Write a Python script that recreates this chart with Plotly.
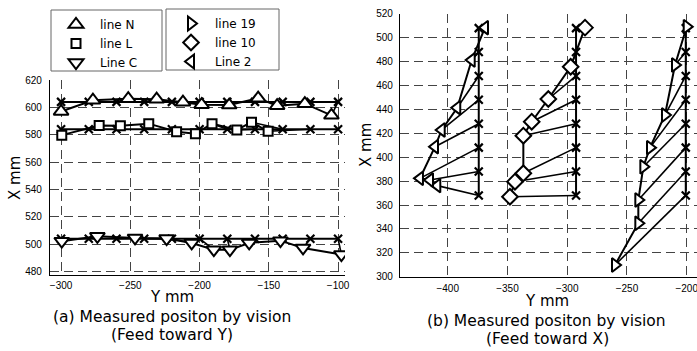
import plotly.graph_objects as go

# ---------------- (a) Feed toward Y ----------------
cmd_y_a = [-300, -280, -260, -240, -220, -200, -180, -160, -140, -120, -100]
cmd_x_N = [604, 604, 604, 604, 604, 604, 604, 604, 604, 604, 604]
cmd_x_L = [584, 584, 584, 584, 584, 584, 584, 584, 584, 584, 584]
cmd_x_C = [504, 504, 504, 504, 504, 504, 504, 504, 504, 504, 504]

meas_y_N = [-300, -277, -251.5, -231, -212, -198.5, -178.6, -157.7, -144, -124, -104.8]
meas_x_N = [597, 605.2, 606.3, 606, 603.8, 602, 601.7, 606.7, 601.2, 602.7, 594.2]
meas_y_L = [-299.5, -272.5, -257.2, -236.7, -216.6, -203, -191, -173.1, -162.5, -150.5]
meas_x_L = [579.7, 586.8, 586.5, 588.1, 582.2, 580.7, 588.1, 583.5, 589.2, 582.5]
meas_y_C = [-299.5, -273.8, -246.6, -223.8, -205.7, -189.7, -178.1, -164.2, -141.6, -125.3, -97.6]
meas_x_C = [502.2, 505.8, 504.6, 504.1, 500.9, 496, 496, 500.9, 502.6, 497.3, 492.4]

# ---------------- (b) Feed toward X ----------------
cmd_x_b = [368, 388, 408, 428, 448, 468, 488, 508]
cmd_y_2 = [-374, -374, -374, -374, -374, -374, -374, -374]
cmd_y_10 = [-292.6, -292.6, -292.6, -292.6, -292.6, -292.6, -292.6, -292.6]
cmd_y_19 = [-200.8, -200.8, -200.8, -200.8, -200.8, -200.8, -200.8, -200.8]

meas_y_2 = [-408.7, -414.8, -423.2, -410.6, -405.0, -392.0, -379.9, -368.8]
meas_x_2 = [376.2, 380.9, 382.3, 408.8, 422.8, 441.4, 481.3, 508.4]
meas_y_10 = [-347.9, -343.7, -336.7, -336.7, -329.7, -315.8, -297.1, -285.1]
meas_x_10 = [366.9, 379.5, 386.5, 418.0, 429.7, 448.7, 475.7, 508.4]
meas_y_19 = [-260.0, -240.5, -240.5, -236.3, -230.7, -218.2, -209.8, -200.0]
meas_x_19 = [309.8, 344.7, 364.2, 392.0, 408.0, 435.3, 477.2, 509.2]

W, H = 697, 351
fig = go.Figure()


def add_group(xa, ya, cy, cx, my, mx, symbol, size, name, legend):
    common = dict(xaxis=xa, yaxis=ya, hoverinfo="skip")
    # error vectors commanded -> measured
    vx, vy = [], []
    for a, b, c, d in zip(cy, cx, my, mx):
        vx += [a, c, None]
        vy += [b, d, None]
    fig.add_trace(go.Scatter(x=vx, y=vy, mode="lines", line=dict(color="black", width=1.6),
                             showlegend=False, **common))
    fig.add_trace(go.Scatter(x=cy, y=cx, mode="lines", line=dict(color="black", width=2),
                             showlegend=False, **common))
    fig.add_trace(go.Scatter(x=my, y=mx, mode="lines", line=dict(color="black", width=2),
                             showlegend=False, **common))
    fig.add_trace(go.Scatter(x=cy, y=cx, mode="markers",
                             marker=dict(symbol="x-thin", size=8, line=dict(color="black", width=2.2)),
                             showlegend=False, **common))
    fig.add_trace(go.Scatter(x=my, y=mx, mode="markers", name=name, legend=legend,
                             marker=dict(symbol=symbol, size=size, color="white",
                                         line=dict(color="black", width=2)),
                             **common))


add_group("x", "y", cmd_y_a, cmd_x_N, meas_y_N, meas_x_N, "triangle-up", 13, "line N", "legend")
add_group("x", "y", cmd_y_a, cmd_x_L, meas_y_L, meas_x_L, "square", 9, "line L", "legend")
add_group("x", "y", cmd_y_a, cmd_x_C, meas_y_C, meas_x_C, "triangle-down", 13, "Line C", "legend")
add_group("x2", "y2", cmd_y_19, cmd_x_b, meas_y_19, meas_x_19, "triangle-right", 12, "line 19", "legend2")
add_group("x2", "y2", cmd_y_10, cmd_x_b, meas_y_10, meas_x_10, "diamond", 12, "line 10", "legend2")
add_group("x2", "y2", cmd_y_2, cmd_x_b, meas_y_2, meas_x_2, "triangle-left", 12, "Line 2", "legend2")

tickfont = dict(family="Liberation Sans, Arial, sans-serif", size=10, color="black")
axis_common = dict(showgrid=True, gridcolor="#444", griddash="9px,5px", gridwidth=1,
                   showline=True, linecolor="black", linewidth=1.2, zeroline=False,
                   ticks="", tickfont=tickfont, automargin=False, ticklabeloverflow="allow")

legend_common = dict(bgcolor="rgba(0,0,0,0)", borderwidth=0,
                     font=dict(family="DejaVu Sans, sans-serif", size=12, color="black"),
                     xanchor="left", yanchor="top", itemwidth=38, tracegroupgap=0)

fig.update_layout(
    width=W, height=H, margin=dict(l=0, r=0, t=0, b=0),
    template="none", paper_bgcolor="white", plot_bgcolor="white",
    xaxis=dict(domain=[50 / W, 345 / W], range=[-308, -95], dtick=50, tick0=-300, anchor="y",
               ticklabelstandoff=1, **axis_common),
    yaxis=dict(domain=[1 - 275 / H, 1 - 80 / H], range=[477.5, 620], dtick=20, tick0=480, anchor="x",
               ticklabelstandoff=5, **axis_common),
    xaxis2=dict(domain=[400 / W, 1.0], range=[-439.9, -191.4], dtick=50, tick0=-400, anchor="y2",
                ticklabelstandoff=2, **axis_common),
    yaxis2=dict(domain=[1 - 276.7 / H, 1 - 13.8 / H], range=[300, 520], dtick=20, tick0=300, anchor="x2",
                ticklabelstandoff=4, **axis_common),
    legend=dict(x=52 / W, y=1 - 10 / H, **legend_common),
    legend2=dict(x=167 / W, y=1 - 9 / H, **legend_common),
    showlegend=True,
)

# legend frames
for x0, y0, x1, y1 in [(51, 10, 162, 71), (166, 9, 279, 70)]:
    fig.add_shape(type="rect", xref="paper", yref="paper", x0=x0 / W, x1=x1 / W, y0=1 - y1 / H, y1=1 - y0 / H,
                  line=dict(color="#666", width=1), layer="above")

lab = dict(family="DejaVu Sans, sans-serif", size=15, color="black")
cap = dict(family="DejaVu Sans, sans-serif", size=15.5, color="black")
ann = [
    dict(text="X mm", x=15 / W, y=1 - 178 / H, textangle=-90, font=lab),
    dict(text="X mm", x=366 / W, y=1 - 145 / H, textangle=-90, font=lab),
    dict(text="Y mm", x=172 / W, y=1 - 296.5 / H, font=lab),
    dict(text="Y mm", x=547 / W, y=1 - 301 / H, font=lab),
    dict(text="(a) Measured positon by vision", x=172 / W, y=1 - 317 / H, font=cap),
    dict(text="(Feed toward Y)", x=172 / W, y=1 - 335 / H, font=cap),
    dict(text="(b) Measured positon by vision", x=546 / W, y=1 - 320.5 / H, font=cap),
    dict(text="(Feed toward X)", x=547 / W, y=1 - 338.5 / H, font=cap),
]
for a in ann:
    fig.add_annotation(xref="paper", yref="paper", showarrow=False, xanchor="center", yanchor="middle", **a)

fig.write_html("out.html", config={"displayModeBar": False},
               post_script="document.body.style.margin='0';document.body.style.overflow='hidden';")
